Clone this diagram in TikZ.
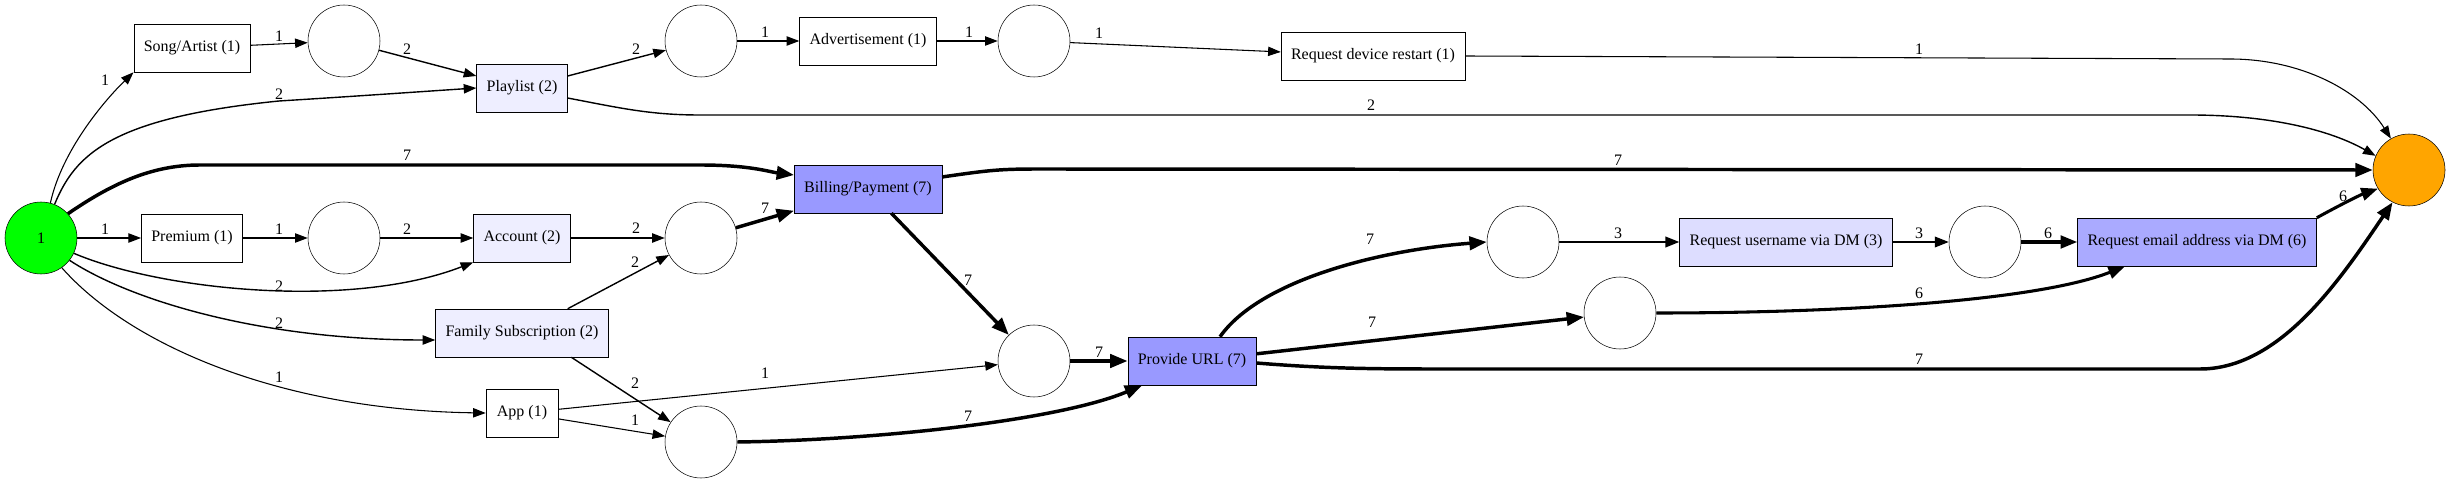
\documentclass[tikz,border=0pt]{standalone}
\usepackage{fontspec}
\setmainfont{Liberation Serif}
\usetikzlibrary{arrows.meta}
\definecolor{srcgreen}{HTML}{00FF00}
\definecolor{snkorange}{HTML}{FFA500}
\definecolor{lav}{HTML}{EEEEFF}
\definecolor{lilac}{HTML}{DDDDFF}
\definecolor{periw}{HTML}{AAAAFF}
\definecolor{violetb}{HTML}{9999FF}
\newcommand{\gv}{\fontsize{12}{14}\selectfont}
\tikzset{place/.style={circle,draw,minimum size=54pt,inner sep=0pt,font=\gv},trans/.style={draw,minimum height=36pt,minimum width=54pt,inner xsep=7.5pt,font=\gv},lbl/.style={font=\gv,inner sep=0pt},f1/.style={-{Triangle[length=9.5pt,width=7pt]},line width=.8pt},f2/.style={-{Triangle[length=9.5pt,width=7pt]},line width=1.05pt},f3/.style={-{Triangle[length=10.5pt,width=8pt]},line width=1.3pt},f6/.style={-{Triangle[length=12.5pt,width=9.5pt]},line width=2.3pt},f7/.style={-{Triangle[length=13pt,width=10pt]},line width=2.6pt}}

\begin{document}
\begin{tikzpicture}[x=.75pt,y=-.75pt]
\useasboundingbox (0,0) rectangle (2451,484);
\node[place,fill=srcgreen] (src) at (41,238) {1};
\node[trans] (sa) at (192,48) {Song/Artist (1)};
\node[trans] (pr) at (192,238) {Premium (1)};
\node[place] (p1) at (344,41) {};\node[place] (p2) at (344,238) {};
\node[trans,fill=lav] (pl) at (522,88) {Playlist (2)};
\node[trans,fill=lav] (acc) at (522,238) {Account (2)};
\node[trans,fill=lav] (fs) at (522,333) {Family Subscription (2)};
\node[trans] (app) at (522,413) {App (1)};
\node[place] (p3) at (701,41) {};\node[place] (p4) at (701,238) {};\node[place] (p5) at (701,442) {};
\node[trans] (ad) at (868,41) {Advertisement (1)};
\node[trans,fill=violetb] (bp) at (868,189) {Billing/Payment (7)};
\node[place] (p6) at (1034,41) {};\node[place] (p7) at (1034,361) {};
\node[trans] (rdr) at (1373,56) {Request device restart (1)};
\node[trans,fill=violetb] (url) at (1192,361) {Provide URL (7)};
\node[place] (p8) at (1523,242) {};\node[place] (p9) at (1620,313) {};
\node[trans,fill=lilac] (un) at (1786,242) {Request username via DM (3)};
\node[place] (p10) at (1985,242) {};
\node[trans,fill=periw] (em) at (2197,242) {Request email address via DM (6)};
\node[place,fill=snkorange] (snk) at (2409,170) {};
\draw[f1] (src.75) .. controls (62,150) and (105,100) .. (sa.south west) node[lbl] at (105,80) {1};
\draw[f2] (src.68) .. controls (75,155) and (110,118) .. (279,101) .. controls (360,96) and (430,91) .. (pl.west) node[lbl] at (279,94) {2};
\draw[f7] (src.42) .. controls (110,185) and (150,165) .. (200,165) -- (700,165) .. controls (750,165) and (770,172) .. ([yshift=10.5pt]bp.west) node[lbl] at (407,155) {7};
\draw[f1] (src) -- (pr) node[lbl] at (105,229) {1};
\draw[f2] (src.-25) .. controls (160,290) and (350,310) .. (acc.south west) node[lbl] at (279,286) {2};
\draw[f2] (src.-38) .. controls (130,300) and (260,340) .. ([yshift=-5.25pt]fs.west) node[lbl] at (279,323) {2};
\draw[f1] (src.-55) .. controls (130,345) and (280,410) .. (app.west) node[lbl] at (279,377) {1};
\draw[f1] (sa) -- (p1) node[lbl] at (279,36) {1};
\draw[f2] (p1) -- (pl) node[lbl] at (407,49) {2};
\draw[f1] (pr) -- (p2) node[lbl] at (279,229) {1};
\draw[f2] (p2) -- (acc) node[lbl] at (407,229) {2};
\draw[f2] (pl) -- (p3) node[lbl] at (636,49) {2};
\draw[f2] ([yshift=-7.5pt]pl.east) .. controls (620,108) and (650,115) .. (700,115) -- (2190,115) .. controls (2270,115) and (2330,130) .. (snk.157) node[lbl] at (1371,105) {2};
\draw[f1] (p3) -- (ad) node[lbl] at (765,32) {1};
\draw[f1] (ad) -- (p6) node[lbl] at (969,32) {1};
\draw[f1] (p6) -- (rdr) node[lbl] at (1099,33) {1};
\draw[f1] (rdr.east) -- (2230,59) .. controls (2300,59) and (2360,90) .. (snk.120) node[lbl] at (1919,49) {1};
\draw[f2] (acc) -- (p4) node[lbl] at (636,228) {2};
\draw[f2] (fs) -- (p4) node[lbl] at (635,262) {2};
\draw[f7] (p4) -- (bp) node[lbl] at (765,208) {7};
\draw[f7] ([yshift=9pt]bp.east) .. controls (990,170) and (1000,169) .. (1040,169) -- (snk.west) node[lbl] at (1618,160) {7};
\draw[f7] (bp) -- (p7) node[lbl] at (968,280) {7};
\draw[f2] ([xshift=37pt]fs.south) -- (p5) node[lbl] at (635,383) {2};
\draw[f1] (app) -- (p7) node[lbl] at (765,373) {1};
\draw[f1] (app) -- (p5) node[lbl] at (635,420) {1};
\draw[f7] (p7) -- (url) node[lbl] at (1099,352) {7};
\draw[f7] (p5.east) .. controls (880,440) and (1060,420) .. ([xshift=11pt]url.south west) node[lbl] at (968,416) {7};
\draw[f7] ([xshift=21pt]url.north) .. controls (1260,280) and (1380,250) .. (p8.west) node[lbl] at (1370,239) {7};
\draw[f7] (url) -- (p9) node[lbl] at (1372,322) {7};
\draw[f7] ([yshift=-1.5pt]url.east) .. controls (1330,369) and (1380,369) .. (1450,369) -- (2200,369) .. controls (2280,369) and (2340,280) .. (snk.-117) node[lbl] at (1919,359) {7};
\draw[f3] (p8) -- (un) node[lbl] at (1618,233) {3};
\draw[f3] (un) -- (p10) node[lbl] at (1919,233) {3};
\draw[f6] (p10) -- (em) node[lbl] at (2048,233) {6};
\draw[f6] (p9.east) .. controls (1850,313) and (2040,300) .. ([xshift=-54pt]em.south) node[lbl] at (1919,293) {6};
\draw[f6] (em.north east) .. controls (2340,205) and (2360,195) .. (snk.-149) node[lbl] at (2343,196) {6};
\end{tikzpicture}
\end{document}
